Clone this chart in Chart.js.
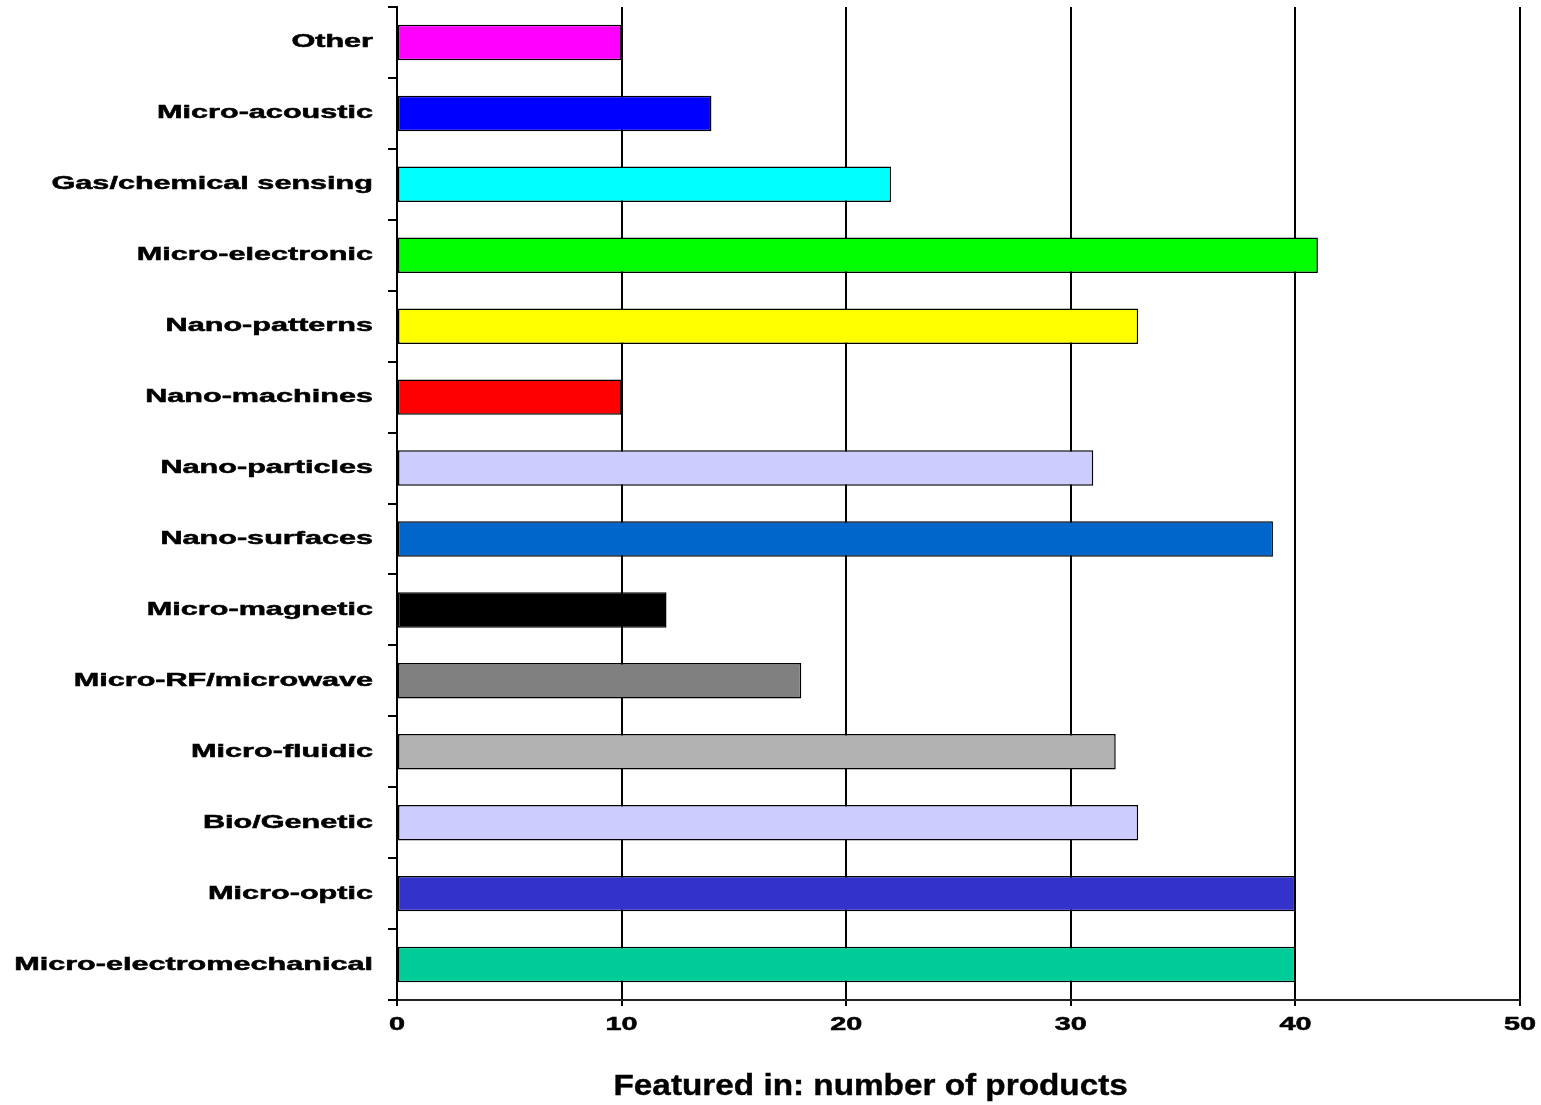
<!DOCTYPE html>
<html>
<head>
<meta charset="utf-8">
<title>Featured in: number of products</title>
<script src="https://cdn.jsdelivr.net/npm/chart.js@4"></script>
<style>
  html, body { margin: 0; padding: 0; background: #fff; }
  #wrap { width: 1541px; height: 1105px; position: relative; }
</style>
</head>
<body>
<div id="wrap"><canvas id="chart"></canvas></div>
<script>
// categories top to bottom, as they appear in the chart
const categories = [
  "Other",
  "Micro-acoustic",
  "Gas/chemical sensing",
  "Micro-electronic",
  "Nano-patterns",
  "Nano-machines",
  "Nano-particles",
  "Nano-surfaces",
  "Micro-magnetic",
  "Micro-RF/microwave",
  "Micro-fluidic",
  "Bio/Genetic",
  "Micro-optic",
  "Micro-electromechanical"
]
const productCounts = [10, 14, 22, 41, 33, 10, 31, 39, 12, 18, 32, 33, 40, 40]
const barColors = [
  "#ff00ff", "#0000ff", "#00ffff", "#00ff00", "#ffff00", "#ff0000", "#ccccff",
  "#0066cc", "#000000", "#808080", "#b2b2b2", "#ccccff", "#3333cc", "#00cc99"
]
const axisTitle = "Featured in: number of products"

const FONT = '"Liberation Sans", Arial, sans-serif'

// labels are drawn by hand so they can be stretched horizontally
function wideText(ctx, text, x, y, sx, align, heavy) {
  ctx.save()
  ctx.translate(x, y)
  ctx.scale(sx, 1)
  ctx.textAlign = align
  ctx.fillText(text, 0, 0)
  if (heavy) {
    ctx.lineWidth = heavy
    ctx.strokeText(text, 0, 0)
  }
  ctx.restore()
}

const wideLabels = {
  id: "wideLabels",
  afterDraw(chart) {
    const { ctx, chartArea, scales } = chart
    ctx.save()
    ctx.fillStyle = "#000"
    ctx.strokeStyle = "#000"
    ctx.textBaseline = "middle"

    ctx.font = "bold 18px " + FONT
    scales.y.ticks.forEach((t, i) => {
      const y = scales.y.getPixelForTick(i)
      wideText(ctx, categories[t.value], chartArea.left - 24, y, 1.7, "right", 0.5)
    })

    ctx.font = "bold 18px " + FONT
    scales.x.ticks.forEach((t, i) => {
      const x = scales.x.getPixelForTick(i)
      wideText(ctx, String(t.value), x, chartArea.bottom + 25, 1.6, "center", 0.5)
    })

    ctx.font = "bold 30px " + FONT
    ctx.textBaseline = "alphabetic"
    wideText(ctx, axisTitle, chart.width * 0.565, chartArea.bottom + 95, 1.11, "center", 0.4)
    ctx.restore()
  }
}

new Chart(document.getElementById("chart"), {
  type: "bar",
  data: {
    labels: categories,
    datasets: [{
      data: productCounts,
      backgroundColor: barColors,
      borderColor: "#000",
      borderWidth: 1.5,
      borderSkipped: false,
      barPercentage: 0.5,
      categoryPercentage: 1
    }]
  },
  options: {
    indexAxis: "y",
    responsive: true,
    maintainAspectRatio: false,
    animation: false,
    layout: { padding: { top: 7, right: 21, left: 0, bottom: 0 } },
    plugins: {
      legend: { display: false },
      tooltip: { enabled: false }
    },
    scales: {
      x: {
        min: 0,
        max: 50,
        ticks: { stepSize: 10, display: false },
        grid: { color: "#000", lineWidth: 2, tickLength: 6, tickColor: "#000" },
        border: { color: "#222", width: 2 },
        afterFit(scale) { scale.height = 105 }
      },
      y: {
        ticks: { display: false },
        grid: {
          drawOnChartArea: false,
          color: "#000",
          lineWidth: 2,
          tickLength: 9
        },
        border: { color: "#000", width: 2 },
        afterFit(scale) { scale.width = 397 }
      }
    }
  },
  plugins: [wideLabels]
})
</script>
</body>
</html>
